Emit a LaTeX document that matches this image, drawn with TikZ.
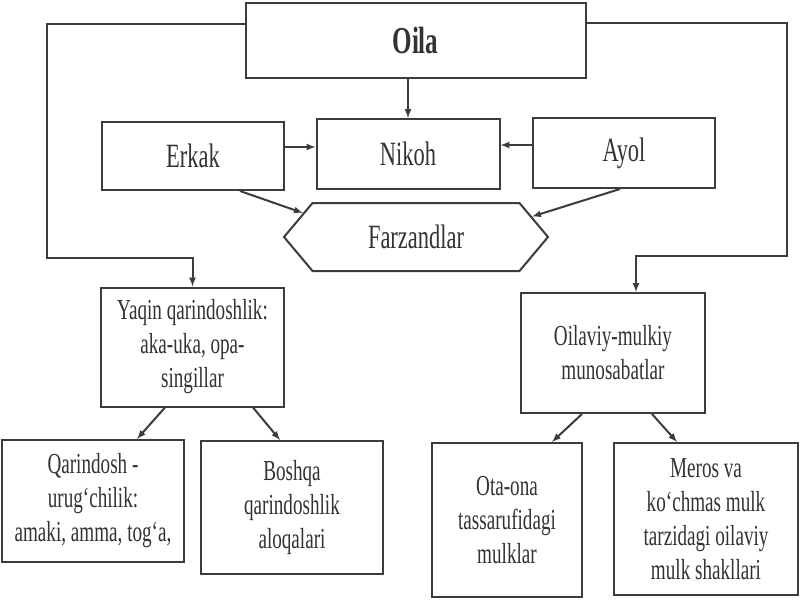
\documentclass[tikz,border=0pt]{standalone}
\usepackage{fontspec}
\setmainfont{Liberation Serif}[FakeStretch=0.66]
\usepackage{tikz}
\usetikzlibrary{shapes.symbols,calc,positioning}
\definecolor{colorln}{HTML}{3C3C3C}
\definecolor{colortx}{HTML}{333333}
\tikzset{
  boxmain/.style={draw=colorln, line width=2pt, text=colortx, align=center, inner sep=2pt, font=\fontsize{34}{40}\selectfont},
  boxsub/.style={boxmain, font=\fontsize{29}{34}\selectfont},
  edgear/.style={colorln, line width=2pt, -latex},
  edgeln/.style={colorln, line width=2pt}
}

\begin{document}
\begin{tikzpicture}[x=1pt, y=-1pt]
\useasboundingbox[fill=white] (0,0) rectangle (800,600);
\node[boxmain, minimum width=340pt, minimum height=75pt, font=\bfseries\fontsize{38}{44}\selectfont] (oila) at (415.5,40.5) {Oila};
\node[boxmain, minimum width=182pt, minimum height=68pt] (erkak) at (193,156) {Erkak};
\node[boxmain, minimum width=183pt, minimum height=70pt] (nikoh) at (408,154) {Nikoh};
\node[boxmain, minimum width=182pt, minimum height=70pt] (ayol) at (624,153) {Ayol};
\node[boxmain, signal, signal to=east and west, signal pointer angle=100, minimum width=264pt, minimum height=68pt] (farz) at (416,237) {Farzandlar};
\node[boxsub, minimum width=183pt, minimum height=119pt] (yaqin) at (192.5,347) {Yaqin qarindoshlik:\\aka-uka, opa-\\singillar};
\node[boxsub, minimum width=182pt, minimum height=122pt] (qarin) at (93,501) {Qarindosh -\\urug‘chilik:\\amaki, amma, tog‘a,};
\node[boxsub, minimum width=182pt, minimum height=133pt] (boshqa) at (292,507.5) {Boshqa\\qarindoshlik\\aloqalari};
\node[boxsub, minimum width=184pt, minimum height=120pt] (oilaviy) at (613,353) {Oilaviy-mulkiy\\munosabatlar};
\node[boxsub, minimum width=150pt, minimum height=154pt] (otaona) at (507,520) {Ota-ona\\tassarufidagi\\mulklar};
\node[boxsub, minimum width=184pt, minimum height=152pt] (meros) at (706,519) {Meros va\\ko‘chmas mulk\\tarzidagi oilaviy\\mulk shakllari};
\coordinate (lbend) at (47,258);
\coordinate (rbend) at (787,256);
\draw[edgear] (nikoh.north |- oila.south) -- (nikoh.north);
\draw[edgear] ([yshift=9pt]erkak.east) -- ([yshift=9pt]erkak.east -| nikoh.west);
\draw[edgear] ([yshift=8pt]ayol.west) -- ([yshift=8pt]ayol.west -| nikoh.east);
\draw[edgear] ([xshift=47pt]erkak.south) -- (farz.168);
\draw[edgear] ([xshift=-4pt]ayol.south) -- (farz.10);
\draw[edgear] ([yshift=17pt]oila.west) -| (lbend) -| (yaqin.north);
\draw[edgear] ([yshift=18pt]oila.east) -| (rbend) -| ([xshift=23pt]oilaviy.north);
\draw[edgear] ([xshift=-27.5pt]yaqin.south) -- ([xshift=44pt]qarin.north);
\draw[edgear] ([xshift=60.5pt]yaqin.south) -- ([xshift=-12pt]boshqa.north);
\draw[edgear] ([xshift=-31pt]oilaviy.south) -- ([xshift=45pt]otaona.north);
\draw[edgear] ([xshift=39pt]oilaviy.south) -- ([xshift=-29pt]meros.north);
\end{tikzpicture}
\end{document}
